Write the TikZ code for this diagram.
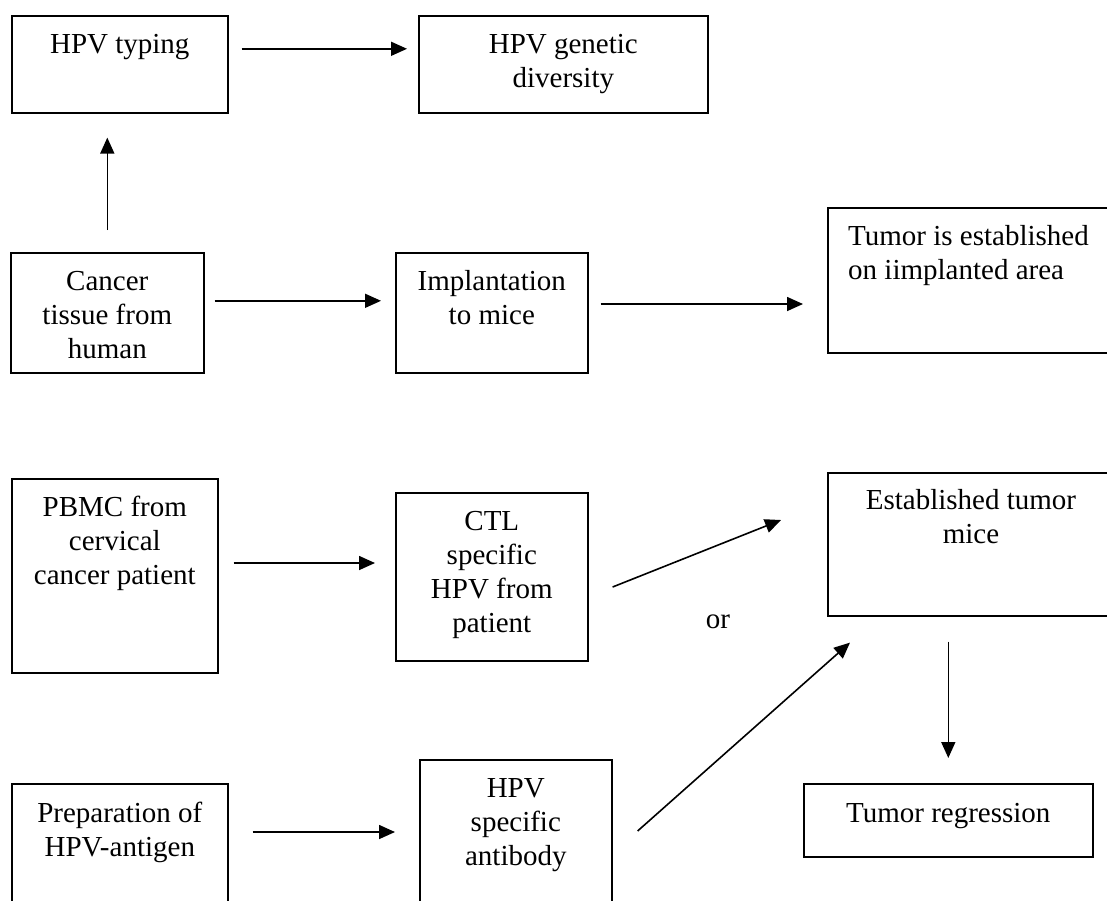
\documentclass[tikz,border=0pt]{standalone}
\usepackage{fontspec}
\setmainfont{Liberation Serif}
\usetikzlibrary{arrows.meta,calc}
\newcommand\tp{\rule{0pt}{22pt}}
\begin{document}
\begin{tikzpicture}[x=1pt,y=-1pt,
  box/.style={draw,line width=1.6pt,inner sep=0pt,anchor=north west},
  lbl/.style={inner sep=0pt,anchor=north,align=center,font=\fontsize{29}{34}\selectfont},
  arr/.style={line width=1.6pt,-{Triangle[length=16pt,width=14pt]}}]
\clip (0,0) rectangle (1107,900);
\fill[white] (0,0) rectangle (1107,900);
% boxes
\node[box,minimum width=216pt,minimum height=97pt]  (A) at (11,15) {};
\node[box,minimum width=289pt,minimum height=97pt]  (B) at (418,15) {};
\node[box,minimum width=193pt,minimum height=120pt] (C) at (10,252) {};
\node[box,minimum width=192pt,minimum height=120pt] (D) at (395,252) {};
\node[box,minimum width=286pt,minimum height=145pt] (E) at (827,207) {};
\node[box,minimum width=206pt,minimum height=194pt] (F) at (11,478) {};
\node[box,minimum width=192pt,minimum height=168pt] (G) at (395,492) {};
\node[box,minimum width=288pt,minimum height=143pt] (H) at (827,472) {};
\node[box,minimum width=289pt,minimum height=73pt]  (I) at (803,783) {};
\node[box,minimum width=216pt,minimum height=140pt] (J) at (11,783) {};
\node[box,minimum width=192pt,minimum height=160pt] (K) at (419,759) {};
% labels
\node[lbl] (tA) at ($(A.north)+(0,16)$) {\tp HPV typing};
\node[lbl] (tB) at ($(B.north)+(0,16)$) {\tp HPV genetic\\diversity};
\node[lbl] (tC) at ($(C.north)+(0,16)$) {\tp Cancer\\tissue from\\human};
\node[lbl] (tD) at ($(D.north)+(0,16)$) {\tp Implantation\\to mice};
\node[lbl,anchor=north west,align=left] (tE) at ($(E.north west)+(21,16)$) {\tp Tumor is established\\on iimplanted area};
\node[lbl] (tF) at ($(F.north)+(0,16)$) {\tp PBMC from\\cervical\\cancer patient};
\node[lbl] (tG) at ($(G.north)+(0,16)$) {\tp CTL\\specific\\HPV from\\patient};
\node[lbl,anchor=north] (tH) at ($(H.north west)+(144,15)$) {\tp Established tumor\\mice};
\node[lbl] (tI) at ($(I.north)+(0,17)$) {\tp Tumor regression};
\node[lbl] (tJ) at ($(J.north)+(0,17)$) {\tp Preparation of\\HPV-antigen};
\node[lbl] (tK) at ($(K.north)+(0,16)$) {\tp HPV\\specific\\antibody};
\node[lbl,anchor=base] (or) at (718,628) {or};
% connectors
\draw[arr] ($(A.east)+(13,-15.5)$) -- ($(B.west)+(-11,-15.5)$);
\draw[arr] ($(C.north)+(0,-22)$) -- ($(C.north |- A.south)+(0,24)$);
\draw[arr] ($(C.east)+(10,-12)$) -- ($(D.west)+(-14,-12)$);
\draw[arr] ($(D.north east)+(12,52)$) -- ($(E.north west)+(-24,97)$);
\draw[arr] ($(F.north east)+(15,85)$) -- ($(G.north west)+(-20,71)$);
\draw[arr] ($(G.north east)+(24,95)$) -- ($(H.north west)+(-46,48)$);
\draw[arr] ($(J.north east)+(24,49)$) -- ($(K.north west)+(-24,73)$);
\draw[arr] ($(K.north east)+(25,72)$) -- ($(H.south west)+(23,26)$);
\draw[arr] ($(I.north |- H.south)+(0,25)$) -- ($(I.north)+(0,-25)$);
\end{tikzpicture}
\end{document}
